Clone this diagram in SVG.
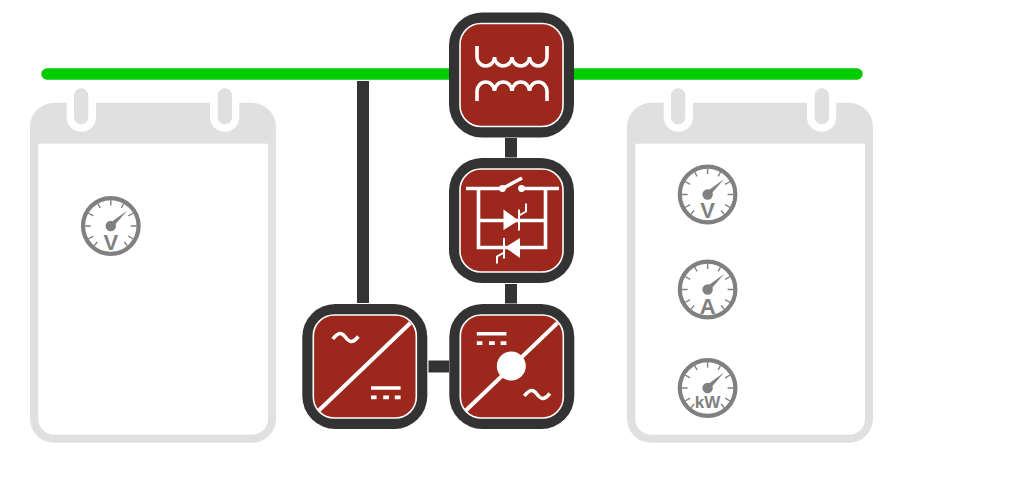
<svg xmlns="http://www.w3.org/2000/svg" xmlns:xlink="http://www.w3.org/1999/xlink" width="1024" height="504" viewBox="0 0 1024 504">
<style>
.frame{fill:#333333}
.face{fill:#9c271c;stroke:#ffffff;stroke-width:1.6}
.g{fill:none;stroke:#ffffff;stroke-width:3.6}
.thin{stroke-width:2}
.diag{stroke-width:4}
.gf{fill:#ffffff;stroke:none}
.link{stroke:#333333;stroke-width:12;fill:none}
.bus{stroke:#00cc00;stroke-width:11.500;stroke-linecap:round;fill:none}
.panel{fill:#e0e0e0}
.sheet{fill:#ffffff}
.ringw{fill:#ffffff}
.mt{fill:#808080;font-family:"Liberation Sans",Arial,sans-serif;font-weight:bold;text-anchor:middle}
.dial{fill:none;stroke:#808080;stroke-width:4.2}
.tick{stroke:#808080;stroke-width:1.4;fill:none}
.hand{fill:#808080}
</style>
<defs>
<g id="box">
<rect class="frame" x="-62.5" y="-62.5" width="125" height="125" rx="33"/>
<rect class="face" x="-51.5" y="-51.5" width="103" height="103" rx="21"/>
</g>
<g id="gauge">
<circle class="dial" r="27.8"/>
<path class="tick" d="M0-26V-20.500M13-22.500L10.500-18.200M22.500-13L17.500-10.100M26 0H20M22.500 13L17.500 10.100M-13-22.500L-10.500-18.200M-22.500-13L-17.500-10.100M-26 0H-20M-22.500 13L-17.500 10.100M16.500 19.600L13.500 16M-16.500 19.600L-13.500 16"/>
<circle class="hand" r="5.200"/>
<polygon class="hand" points="-1.500,-2.500 1.800,1.500 16.500,-15.500"/>
</g>
<g id="dc">
<path class="gf" d="M0 0H29.600V3.600H0ZM0 9.400H5.600V13H0ZM12.200 9.400H18V13H12.200ZM23.800 9.400H29.600V13H23.800Z"/>
</g>
<path id="ac" class="g" d="M0 4.500C6-3 9-2 12.500 2.500C16 7 19 10 25.500 2"/>
<g id="pad">
<rect class="panel" x="0" y="0" width="246" height="340" rx="24"/>
<path class="sheet" d="M8.300 41H238V316a16 16 0 0 1-16 16H24.300a16 16 0 0 1-16-16Z"/>
<rect class="ringw" x="36.700" y="-20" width="29.300" height="49" rx="14.600"/>
<rect class="ringw" x="180" y="-20" width="29.300" height="49" rx="14.600"/>
<rect class="panel" x="44" y="-14.500" width="14.300" height="36" rx="7.100"/>
<rect class="panel" x="187.700" y="-14.500" width="14.300" height="36" rx="7.100"/>
</g>
</defs>

<g id="panel-left"><use xlink:href="#pad" href="#pad" x="30" y="102.800"/></g>
<g id="panel-right"><use xlink:href="#pad" href="#pad" x="627" y="102.800"/></g>

<g id="connectors">
<path class="bus" d="M47 74H857"/>
<path class="link" d="M363 81V303"/>
<path class="link" d="M511 138V157.500"/>
<path class="link" d="M511 284V303.500"/>
<path class="link" d="M428.500 366.500H449"/>
</g>

<g id="node-transformer" transform="translate(511.500 75)">
<use xlink:href="#box" href="#box"/>
<path class="g" d="M-34.500-29V-18a8.750 9 0 0 0 17.500 0a8.750 9 0 0 0 17.500 0a8.750 9 0 0 0 17.500 0a8.750 9 0 0 0 17.500 0V-29"/>
<path class="g" d="M-34.500 26V16a8.750 9 0 0 1 17.500 0a8.750 9 0 0 1 17.500 0a8.750 9 0 0 1 17.500 0a8.750 9 0 0 1 17.500 0V26"/>
</g>

<g id="node-switch" transform="translate(511.500 220.500)">
<use xlink:href="#box" href="#box"/>
<path class="g" d="M-45.500-32H-9M10-32H47.500M-9-32L10.500-42.500"/>
<circle class="gf" cx="-9" cy="-32" r="3.400"/>
<circle class="gf" cx="10" cy="-32" r="3.400"/>
<path class="g" d="M-33-32V27H34V-32M-33 0H34"/>
<polygon class="gf" points="-8,-11 -8,9.500 7,0"/>
<path class="g thin" d="M7.500-11V10M7.500-5L14.500-9V-17"/>
<polygon class="gf" points="8.500,17.500 8.500,37.500 -6.500,27"/>
<path class="g thin" d="M-7.500 17.500V38M-7.500 32L-14.500 36V43"/>
</g>

<g id="node-inverter-left" transform="translate(364.800 366.500)">
<use xlink:href="#box" href="#box"/>
<path class="g diag" d="M-46.500 44.500L45.500-43.500"/>
<use xlink:href="#ac" href="#ac" x="-32" y="-32"/>
<use xlink:href="#dc" href="#dc" x="6.200" y="19.700"/>
</g>

<g id="node-inverter-right" transform="translate(511.800 366.500)">
<use xlink:href="#box" href="#box"/>
<path class="g diag" d="M-46.500 44.500L45.500-43.500"/>
<circle class="gf" cx="-0.500" cy="-0.500" r="14.500"/>
<use xlink:href="#dc" href="#dc" x="-35" y="-34.600"/>
<use xlink:href="#ac" href="#ac" x="12.500" y="25"/>
</g>

<g id="meter-left-v" transform="translate(110.800 226)">
<use xlink:href="#gauge" href="#gauge"/>
<text class="mt" y="24" font-size="22">V</text>
</g>
<g id="meter-right-v" transform="translate(707.600 194.500)">
<use xlink:href="#gauge" href="#gauge"/>
<text class="mt" y="23.500" font-size="22">V</text>
</g>
<g id="meter-right-a" transform="translate(707.600 289.500)">
<use xlink:href="#gauge" href="#gauge"/>
<text class="mt" y="24" font-size="22">A</text>
</g>
<g id="meter-right-kw" transform="translate(707.600 388)">
<use xlink:href="#gauge" href="#gauge"/>
<text class="mt" y="20" font-size="17">kW</text>
</g>
</svg>
